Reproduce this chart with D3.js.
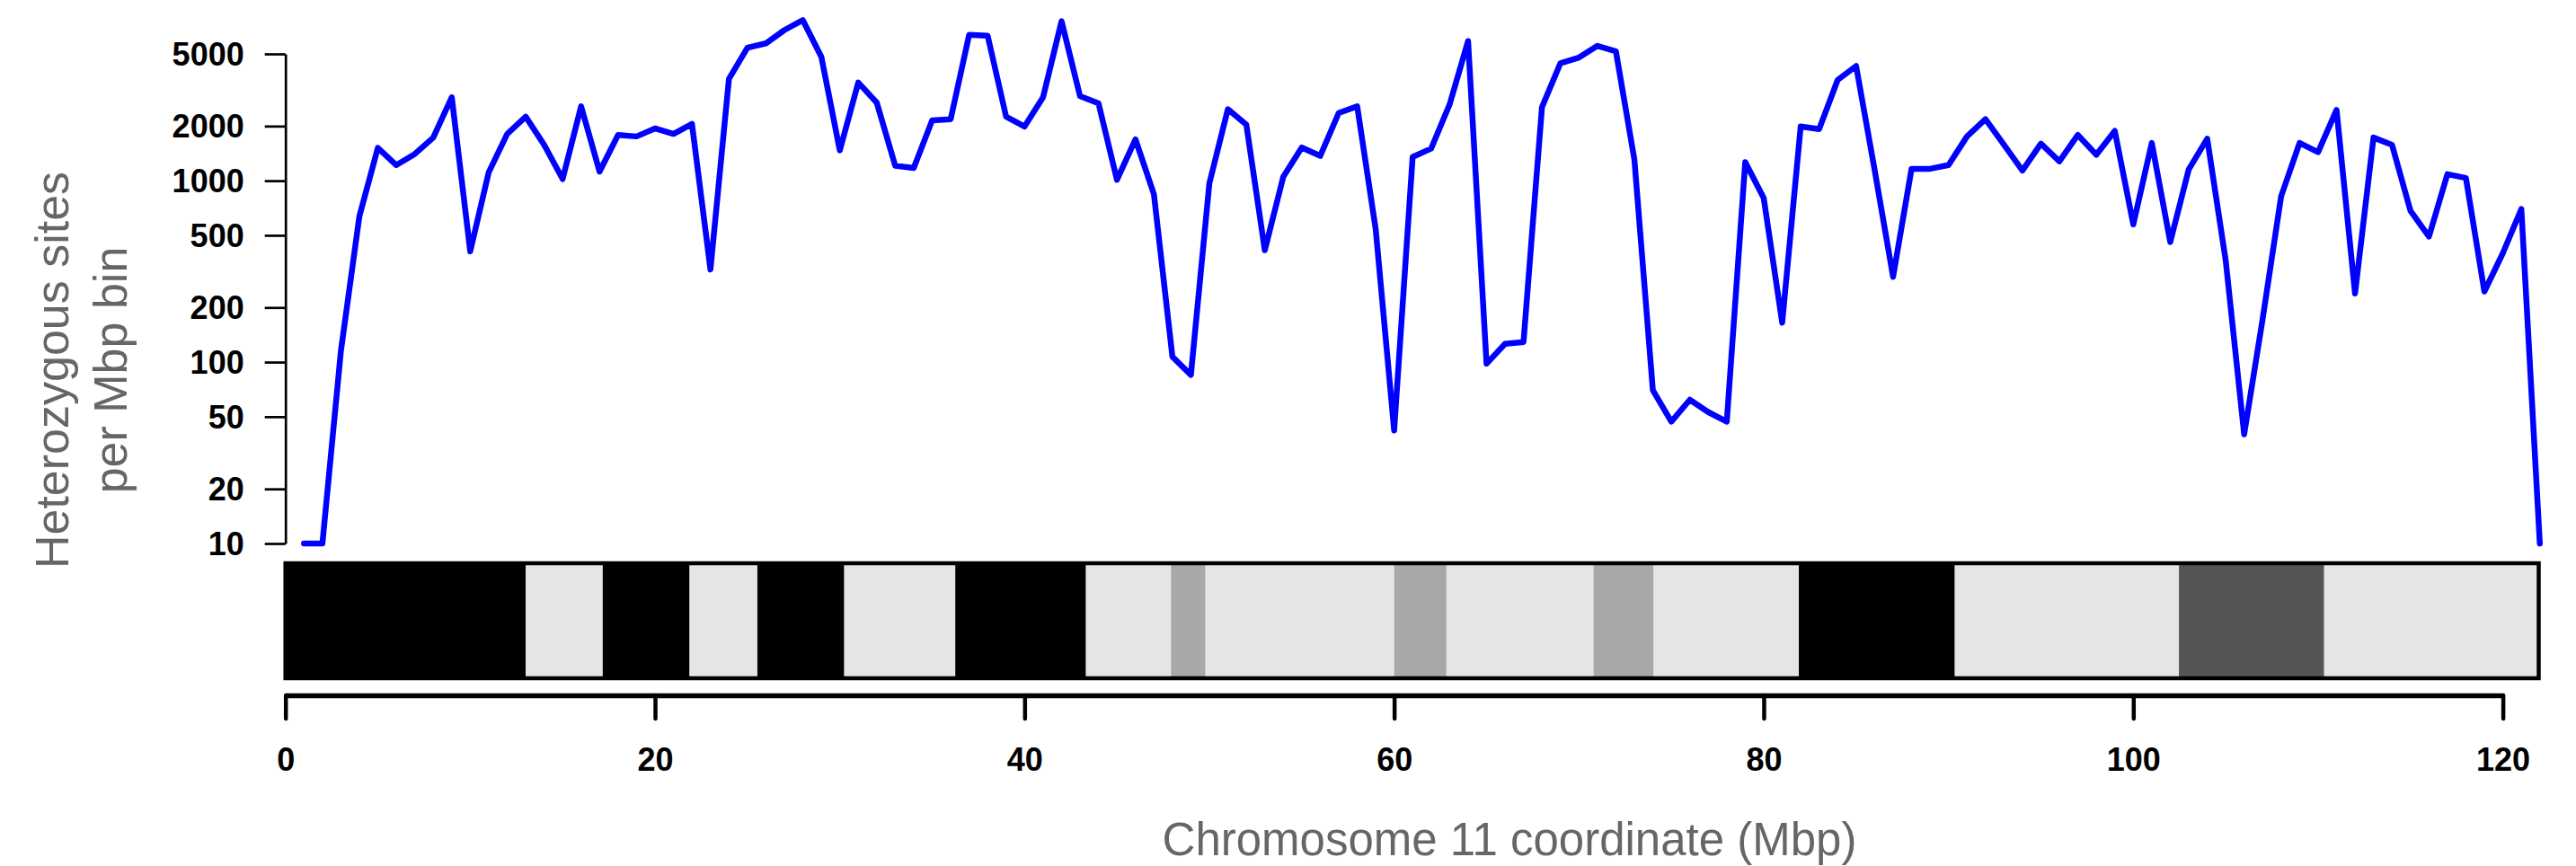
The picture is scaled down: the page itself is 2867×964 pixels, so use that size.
<!DOCTYPE html>
<html>
<meta charset="utf-8">
<script src="https://d3js.org/d3.v7.min.js"></script>
<style>
  body { margin: 0; background: #fff; }
  text { font-family: "Liberation Sans", Arial, Helvetica, sans-serif; }
</style>
<body>
<div id="chart"></div>
<script>

// heterozygous sites per 1 Mbp bin, bins 1..122
var hetSites = [
  10, 10, 115, 636, 1517, 1219, 1403, 1729, 2884, 408,
  1112, 1811, 2254, 1577, 1021, 2571, 1122, 1787, 1754, 1941,
  1811, 2055, 324, 3641, 5405, 5715, 6764, 7670, 4820, 1470,
  3475, 2693, 1208, 1175, 2152, 2183, 6366, 6307, 2254, 1990,
  2884, 7570, 2924, 2668, 1011, 1690, 841, 107, 85, 968,
  2477, 2036, 414, 1051, 1524, 1370, 2362, 2571, 541, 42,
  1352, 1503, 2631, 5884, 98, 126, 129, 2547, 4446, 4772,
  5533, 5164, 1309, 70, 47, 62, 53, 47, 1266, 802,
  165, 1990, 1925, 3592, 4286, 1150, 295, 1163, 1163, 1219,
  1754, 2183, 1577, 1137, 1600, 1278, 1787, 1390, 1880, 574,
  1614, 459, 1153, 1706, 364, 40, 173, 820, 1614, 1436,
  2455, 239, 1729, 1577, 682, 492, 1086, 1035, 245, 399,
  698, 10
];

// cytoband ideogram of chromosome 11 (Mbp)
var bandStart = [0, 13.0, 17.17, 21.87, 25.54, 30.24, 36.25, 43.32, 47.92, 49.79, 60.0, 62.83, 70.79, 74.04, 81.9, 90.34, 102.47, 110.33];
var bandEnd   = [13.0, 17.17, 21.87, 25.54, 30.24, 36.25, 43.32, 47.92, 49.79, 60.0, 62.83, 70.79, 74.04, 81.9, 90.34, 102.47, 110.33, 121.94];
var bandStain = ["gpos100", "gneg", "gpos100", "gneg", "gpos100", "gneg", "gpos100", "gneg", "gpos33", "gneg",
                 "gpos33", "gneg", "gpos33", "gneg", "gpos100", "gneg", "gpos75", "gneg"];

var yTicks = [10, 20, 50, 100, 200, 500, 1000, 2000, 5000];
var xTicks = [0, 20, 40, 60, 80, 100, 120];

var width = 2867, height = 964;

var svg = d3.select("#chart")
  .append("svg")
    .attr("width", width)
    .attr("height", height);

var x = d3.scaleLinear()
  .domain([0, 120])
  .range([317.7, 2785.6]);

var y = d3.scaleLog()
  .domain([10, 5000])
  .range([605, 60]);

var stainColor = d3.scaleOrdinal()
  .domain(["gneg", "gpos33", "gpos75", "gpos100"])
  .range(["#e5e5e5", "#a8a8a8", "#555555", "#000000"]);

// y axis
var yAxis = svg.append("g")
  .attr("transform", "translate(" + x(0) + ",0)")
  .call(d3.axisLeft(y)
    .tickValues(yTicks)
    .tickFormat(d3.format("d"))
    .tickSize(23)
    .tickSizeOuter(0)
    .tickPadding(23));
yAxis.select(".domain").attr("stroke-width", 2.7);
yAxis.selectAll(".tick line").attr("stroke-width", 2.7);
yAxis.selectAll(".tick text")
  .attr("dy", "0.35em")
  .style("font-size", "36px")
  .style("font-weight", "bold")
  .style("font-family", "'Liberation Sans', Arial, sans-serif")
  .attr("fill", "#000");

// het line
var line = d3.line()
  .x(function(d, i) { return x(i + 1); })
  .y(function(d) { return y(d); });

svg.append("path")
  .datum(hetSites)
  .attr("fill", "none")
  .attr("stroke", "#0000ff")
  .attr("stroke-width", 6.5)
  .attr("stroke-linejoin", "round")
  .attr("stroke-linecap", "round")
  .attr("d", line);

// ideogram
var bandTop = 627, bandBottom = 755;
var bands = bandStart.map(function(s, i) { return { s: s, e: bandEnd[i], stain: bandStain[i] }; });

svg.selectAll("rect.band")
  .data(bands)
  .enter()
  .append("rect")
    .attr("class", "band")
    .attr("x", function(d) { return x(d.s); })
    .attr("y", bandTop)
    .attr("width", function(d) { return x(d.e) - x(d.s); })
    .attr("height", bandBottom - bandTop)
    .attr("fill", function(d) { return stainColor(d.stain); });

svg.append("rect")
  .attr("x", x(0))
  .attr("y", bandTop)
  .attr("width", x(bandEnd[bandEnd.length - 1]) - x(0))
  .attr("height", bandBottom - bandTop)
  .attr("fill", "none")
  .attr("stroke", "#000")
  .attr("stroke-width", 4.5);

// x axis
var xAxis = svg.append("g")
  .attr("transform", "translate(0,774)")
  .call(d3.axisBottom(x)
    .tickValues(xTicks)
    .tickSize(26)
    .tickSizeOuter(0)
    .tickPadding(32));
xAxis.select(".domain").attr("stroke-width", 5.5);
xAxis.selectAll(".tick line")
  .attr("stroke-width", 4.5)
  .attr("stroke-linecap", "round");
xAxis.selectAll(".tick text")
  .style("font-size", "36px")
  .style("font-weight", "bold")
  .style("font-family", "'Liberation Sans', Arial, sans-serif")
  .attr("fill", "#000");

// axis titles
svg.append("text")
  .attr("x", 1680)
  .attr("y", 952)
  .attr("text-anchor", "middle")
  .style("font-size", "51px")
  .attr("fill", "#666666")
  .text("Chromosome 11 coordinate (Mbp)");

var yTitle = svg.append("text")
  .attr("transform", "translate(76,412) rotate(-90)")
  .attr("text-anchor", "middle")
  .style("font-size", "52px")
  .attr("fill", "#666666");
yTitle.append("tspan").attr("x", 0).attr("y", 0).text("Heterozygous sites");
yTitle.append("tspan").attr("x", 0).attr("y", 65).text("per Mbp bin");

</script>
</body>
</html>
